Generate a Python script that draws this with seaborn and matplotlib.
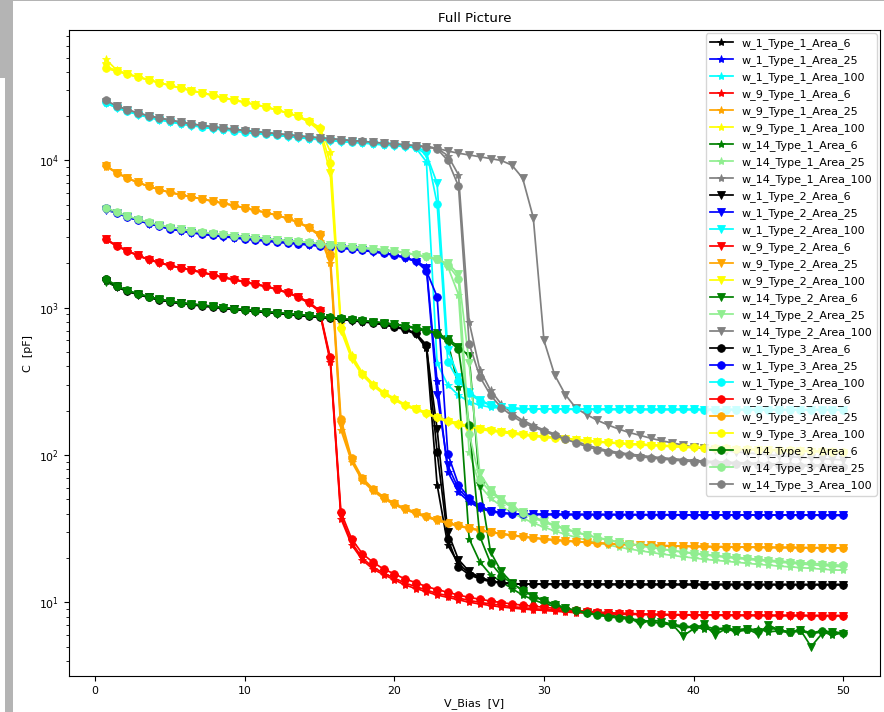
import numpy as np
import matplotlib
matplotlib.use("Agg")
import matplotlib.pyplot as plt
from matplotlib.patches import Rectangle
import seaborn as sns

# Bias sweep: 70 steps of 50/70 V up to 50 V
v_bias = np.round(np.arange(1, 71) * 50 / 70, 4)

wafers = ["1", "9", "14"]
types = ["1", "2", "3"]
areas = ["6", "25", "100"]

# ---------------- w_1 ----------------
c_w1_t1_a6 = [1530, 1390, 1296, 1232, 1178, 1133, 1098, 1071, 1050, 1031,
              1013, 993, 976, 960, 945, 930, 916, 902, 888, 875,
              862, 848, 834, 820, 805, 790, 768, 740, 710, 660,
              530, 63, 24.5, 18.2, 15.8, 14.6, 14.0, 13.6, 13.4, 13.3,
              13.28, 13.27, 13.26, 13.25, 13.25, 13.24, 13.24, 13.23, 13.23, 13.22,
              13.22, 13.22, 13.21, 13.21, 13.21, 13.2, 13.2, 13.2, 13.2, 13.2,
              13.19, 13.19, 13.19, 13.19, 13.18, 13.18, 13.18, 13.18, 13.18, 13.17]
c_w1_t2_a6 = [1510, 1385, 1293, 1230, 1176, 1131, 1096, 1069, 1048, 1029,
              1011, 991, 974, 958, 943, 928, 914, 900, 886, 873,
              860, 846, 832, 818, 803, 788, 770, 743, 715, 668,
              540, 150, 30, 19.5, 16.2, 14.8, 14.0, 13.6, 13.4, 13.3,
              13.28, 13.27, 13.26, 13.26, 13.25, 13.25, 13.24, 13.24, 13.23, 13.23,
              13.22, 13.22, 13.22, 13.21, 13.21, 13.21, 13.2, 13.2, 13.2, 13.2,
              13.2, 13.19, 13.19, 13.19, 13.19, 13.18, 13.18, 13.18, 13.18, 13.18]
c_w1_t3_a6 = [1560, 1400, 1300, 1235, 1180, 1135, 1100, 1073, 1052, 1033,
              1015, 995, 978, 962, 947, 932, 918, 904, 890, 877,
              864, 850, 836, 822, 807, 792, 772, 745, 718, 672,
              560, 105, 27, 17.4, 15.4, 14.4, 13.8, 13.5, 13.35, 13.3,
              13.3, 13.28, 13.27, 13.26, 13.25, 13.25, 13.24, 13.24, 13.23, 13.23,
              13.22, 13.22, 13.22, 13.21, 13.21, 13.21, 13.2, 13.2, 13.2, 13.2,
              13.2, 13.19, 13.19, 13.19, 13.19, 13.18, 13.18, 13.18, 13.18, 13.18]

c_w1_t1_a25 = [4680, 4400, 4140, 3930, 3730, 3580, 3440, 3340, 3240, 3170,
               3110, 3050, 2990, 2940, 2890, 2850, 2800, 2760, 2720, 2680,
               2630, 2590, 2550, 2510, 2460, 2410, 2350, 2280, 2190, 2070,
               1900, 316, 77, 56, 48, 43.5, 41.3, 40.3, 39.8, 39.6,
               39.55, 39.5, 39.5, 39.45, 39.45, 39.4, 39.4, 39.4, 39.35, 39.35,
               39.3, 39.3, 39.3, 39.25, 39.25, 39.2, 39.2, 39.2, 39.2, 39.15,
               39.15, 39.15, 39.1, 39.1, 39.1, 39.1, 39.05, 39.05, 39.0, 39.0]
c_w1_t2_a25 = [4620, 4390, 4130, 3920, 3720, 3570, 3430, 3330, 3230, 3160,
               3100, 3040, 2980, 2930, 2880, 2840, 2790, 2750, 2710, 2670,
               2620, 2580, 2540, 2500, 2450, 2400, 2340, 2270, 2180, 2060,
               1850, 257, 85, 59, 49.5, 44, 41.6, 40.4, 39.9, 39.6,
               39.55, 39.5, 39.5, 39.45, 39.45, 39.4, 39.4, 39.4, 39.35, 39.35,
               39.3, 39.3, 39.3, 39.25, 39.25, 39.2, 39.2, 39.2, 39.2, 39.15,
               39.15, 39.15, 39.1, 39.1, 39.1, 39.1, 39.05, 39.05, 39.0, 39.0]
c_w1_t3_a25 = [4750, 4420, 4150, 3940, 3740, 3590, 3450, 3350, 3250, 3180,
               3120, 3060, 3000, 2950, 2900, 2860, 2810, 2770, 2730, 2690,
               2640, 2600, 2560, 2520, 2470, 2420, 2360, 2290, 2200, 2080,
               1780, 1190, 102, 63, 51, 45, 42, 40.6, 40.0, 39.7,
               39.6, 39.55, 39.5, 39.5, 39.45, 39.45, 39.4, 39.4, 39.4, 39.35,
               39.35, 39.3, 39.3, 39.3, 39.25, 39.25, 39.2, 39.2, 39.2, 39.2,
               39.15, 39.15, 39.15, 39.1, 39.1, 39.1, 39.1, 39.05, 39.05, 39.0]

c_w1_t1_a100 = [24700, 22900, 21600, 20550, 19650, 18950, 18350, 17800, 17300, 16900,
                16500, 16200, 15900, 15600, 15350, 15100, 14850, 14600, 14350, 14100,
                13900, 13700, 13500, 13350, 13200, 13000, 12800, 12650, 12450, 12200,
                9800, 420, 300, 255, 230, 218, 211, 208, 206.5, 205.5,
                205.5, 205, 205, 204.8, 204.6, 204.5, 204.4, 204.3, 204.2, 204.1,
                204, 204, 203.9, 203.9, 203.8, 203.8, 203.7, 203.7, 203.6, 203.6,
                203.5, 203.5, 203.4, 203.4, 203.3, 203.3, 203.2, 203.2, 203.1, 203.1]
c_w1_t2_a100 = [24500, 22800, 21550, 20500, 19600, 18900, 18300, 17750, 17250, 16850,
                16450, 16150, 15850, 15550, 15300, 15050, 14800, 14550, 14300, 14050,
                13850, 13650, 13450, 13300, 13150, 12950, 12750, 12600, 12400, 12250,
                11000, 7000, 520, 340, 270, 236, 220, 212, 208, 206.5,
                205.5, 205, 205, 204.8, 204.6, 204.5, 204.4, 204.3, 204.2, 204.1,
                204, 204, 203.9, 203.9, 203.8, 203.8, 203.7, 203.7, 203.6, 203.6,
                203.5, 203.5, 203.4, 203.4, 203.3, 203.3, 203.2, 203.2, 203.1, 203.1]
c_w1_t3_a100 = [25000, 23000, 21650, 20600, 19700, 19000, 18400, 17850, 17350, 16950,
                16550, 16250, 15950, 15650, 15400, 15150, 14900, 14650, 14400, 14150,
                13950, 13750, 13550, 13400, 13250, 13050, 12850, 12700, 12500, 12300,
                11600, 5100, 430, 320, 262, 232, 218, 211, 208, 206.5,
                205.5, 205, 205, 204.8, 204.6, 204.5, 204.4, 204.3, 204.2, 204.1,
                204, 204, 203.9, 203.9, 203.8, 203.8, 203.7, 203.7, 203.6, 203.6,
                203.5, 203.5, 203.4, 203.4, 203.3, 203.3, 203.2, 203.2, 203.1, 203.1]

# ---------------- w_9 ----------------
c_w9_t1_a6 = [2900, 2630, 2430, 2260, 2120, 2020, 1930, 1860, 1800, 1730,
              1670, 1600, 1550, 1490, 1440, 1390, 1330, 1260, 1180, 1075,
              940, 430, 37, 24.6, 19.4, 16.8, 15.4, 14.2, 13.1, 12.4,
              11.8, 11.2, 10.8, 10.4, 10.0, 9.75, 9.5, 9.3, 9.15, 9.0,
              8.9, 8.8, 8.7, 8.6, 8.5, 8.45, 8.4, 8.35, 8.3, 8.28,
              8.26, 8.24, 8.22, 8.2, 8.19, 8.18, 8.17, 8.16, 8.15, 8.15,
              8.14, 8.14, 8.13, 8.13, 8.12, 8.12, 8.11, 8.11, 8.1, 8.1]
c_w9_t2_a6 = [2920, 2635, 2435, 2265, 2125, 2025, 1935, 1865, 1805, 1735,
              1675, 1605, 1555, 1495, 1445, 1395, 1335, 1265, 1185, 1080,
              950, 445, 38.5, 25.5, 20, 17.3, 15.8, 14.6, 13.5, 12.8,
              12.1, 11.5, 11.1, 10.7, 10.3, 10.0, 9.75, 9.55, 9.35, 9.2,
              9.05, 8.95, 8.85, 8.75, 8.65, 8.55, 8.5, 8.42, 8.37, 8.33,
              8.3, 8.27, 8.25, 8.23, 8.21, 8.2, 8.19, 8.18, 8.17, 8.16,
              8.15, 8.15, 8.14, 8.14, 8.13, 8.13, 8.12, 8.12, 8.11, 8.11]
c_w9_t3_a6 = [2940, 2640, 2440, 2270, 2130, 2030, 1940, 1870, 1810, 1740,
              1680, 1610, 1560, 1500, 1450, 1400, 1340, 1270, 1190, 1090,
              960, 460, 41, 27, 21.4, 18.7, 16.8, 15.6, 14.4, 13.6,
              12.8, 12.2, 11.7, 11.2, 10.8, 10.5, 10.2, 9.95, 9.75, 9.55,
              9.4, 9.25, 9.1, 8.95, 8.8, 8.7, 8.6, 8.5, 8.45, 8.4,
              8.35, 8.3, 8.28, 8.26, 8.24, 8.22, 8.2, 8.2, 8.18, 8.18,
              8.16, 8.16, 8.15, 8.15, 8.14, 8.14, 8.13, 8.13, 8.12, 8.12]

c_w9_t1_a25 = [9100, 8250, 7580, 7090, 6670, 6340, 6060, 5850, 5660, 5460,
               5290, 5110, 4940, 4750, 4580, 4420, 4240, 4030, 3790, 3480,
               3080, 2000, 148, 90, 67, 57, 50.5, 46, 42.5, 40,
               37.8, 35.9, 34.3, 32.9, 31.7, 30.7, 29.8, 29.1, 28.4, 27.8,
               27.3, 26.8, 26.4, 26.1, 25.8, 25.5, 25.2, 25.0, 24.8, 24.6,
               24.4, 24.3, 24.2, 24.1, 24.0, 23.9, 23.85, 23.8, 23.75, 23.7,
               23.65, 23.6, 23.55, 23.5, 23.5, 23.45, 23.4, 23.4, 23.35, 23.3]
c_w9_t2_a25 = [9200, 8270, 7590, 7100, 6680, 6350, 6070, 5860, 5670, 5470,
               5300, 5120, 4950, 4760, 4590, 4430, 4250, 4040, 3800, 3500,
               3110, 2100, 160, 92, 68.5, 58, 51.3, 46.5, 43, 40.5,
               38.2, 36.2, 34.5, 33.1, 31.8, 30.8, 30, 29.2, 28.5, 27.9,
               27.4, 26.9, 26.5, 26.1, 25.8, 25.5, 25.2, 25.0, 24.8, 24.6,
               24.45, 24.35, 24.25, 24.15, 24.05, 23.95, 23.9, 23.85, 23.8, 23.75,
               23.7, 23.65, 23.6, 23.55, 23.55, 23.5, 23.45, 23.45, 23.4, 23.35]
c_w9_t3_a25 = [9250, 8280, 7600, 7100, 6680, 6350, 6070, 5860, 5670, 5470,
               5300, 5120, 4950, 4760, 4590, 4430, 4250, 4050, 3820, 3520,
               3150, 2300, 176, 95, 70, 59, 52, 47, 43.5, 41,
               38.5, 36.5, 34.8, 33.3, 32, 31, 30.1, 29.3, 28.6, 28,
               27.5, 27, 26.6, 26.2, 25.9, 25.6, 25.3, 25.1, 24.9, 24.7,
               24.5, 24.4, 24.3, 24.2, 24.1, 24.0, 23.95, 23.9, 23.85, 23.8,
               23.75, 23.7, 23.65, 23.6, 23.6, 23.55, 23.5, 23.5, 23.45, 23.4]

c_w9_t1_a100 = [48600, 41200, 38600, 36900, 35300, 33800, 32400, 31100, 29900, 28800,
                27800, 26700, 25800, 24900, 24000, 23100, 22100, 21100, 20000, 18600,
                16800, 11500, 780, 480, 362, 305, 267, 243, 221, 208,
                194, 182, 172, 164, 158, 153, 149, 145.5, 142.5, 139.5,
                136.5, 134, 132, 130, 128, 126, 124, 122.5, 121, 119.5,
                118.5, 117.5, 116.5, 115.5, 114.5, 113.5, 112.5, 112, 111.5, 110.5,
                110, 109.5, 109, 108.5, 108, 107.5, 107, 106.5, 106, 105.5]
c_w9_t2_a100 = [43500, 40800, 38700, 37000, 35300, 33700, 32300, 31000, 29800, 28700,
                27700, 26600, 25700, 24800, 23900, 23000, 22000, 21000, 19900, 18200,
                15900, 8200, 700, 450, 348, 295, 259, 237, 215, 204,
                190, 178, 168, 160, 154, 149.5, 145.5, 142.5, 139.5, 136.5,
                134, 132, 130, 128, 126, 124, 122.5, 121, 119.5, 118,
                117, 116, 115, 114, 113, 112, 111, 110.5, 110, 109,
                108.5, 108, 107.5, 107, 106.5, 106, 105.5, 105, 104.5, 104]
c_w9_t3_a100 = [42300, 40300, 38500, 36800, 35200, 33700, 32300, 31000, 29800, 28700,
                27700, 26600, 25700, 24800, 23900, 23000, 22000, 21000, 19900, 18400,
                16500, 9600, 730, 465, 355, 300, 263, 240, 218, 206,
                192, 180, 170, 162, 156, 151, 147, 144, 141, 138,
                135, 133, 131, 129, 127, 125, 123, 122, 120, 119,
                118, 117, 116, 115, 114, 113, 112, 111.5, 111, 110,
                109.5, 109, 108.5, 108, 107.5, 107, 106.5, 106, 105.5, 105]

# ---------------- w_14 ----------------
c_w14_t1_a6 = [1540, 1400, 1305, 1242, 1188, 1143, 1108, 1081, 1060, 1041,
               1023, 1003, 986, 970, 955, 940, 926, 912, 898, 885,
               872, 859, 846, 832, 818, 803, 788, 768, 748, 722,
               692, 655, 590, 290, 27, 18.8, 15.4, 13.8, 12.4, 11.2,
               10.4, 9.8, 9.4, 9.0, 8.7, 8.4, 8.2, 8.0, 7.9, 7.7,
               7.6, 7.4, 7.2, 7.0, 6.7, 6.8, 6.6, 6.5, 6.6, 6.3,
               6.5, 6.6, 6.3, 6.4, 6.2, 6.4, 6.1, 6.3, 6.0, 6.2]
c_w14_t2_a6 = [1500, 1395, 1302, 1240, 1186, 1141, 1106, 1079, 1058, 1039,
               1021, 1001, 984, 968, 953, 938, 924, 910, 896, 883,
               870, 857, 844, 830, 816, 801, 786, 775, 756, 733,
               708, 675, 615, 545, 470, 62, 22, 16.2, 13.6, 12.0,
               11.0, 10.2, 9.6, 9.1, 8.7, 8.5, 8.3, 8.2, 8.0, 7.9,
               7.1, 7.6, 7.4, 7.1, 5.9, 6.6, 7.1, 6.0, 6.6, 6.5,
               6.6, 6.1, 7.0, 6.5, 6.3, 6.5, 5.0, 6.1, 6.3, 6.1]
c_w14_t3_a6 = [1575, 1410, 1310, 1245, 1190, 1145, 1110, 1083, 1062, 1043,
               1025, 1005, 988, 972, 957, 942, 928, 914, 900, 887,
               874, 861, 848, 834, 820, 805, 790, 772, 752, 728,
               700, 665, 600, 525, 160, 28, 18.5, 15.2, 13.4, 12.1,
               11.1, 10.3, 9.7, 9.2, 8.8, 8.5, 8.2, 8.0, 7.8, 7.7,
               7.5, 7.4, 7.2, 7.1, 6.9, 6.8, 6.9, 6.6, 6.7, 6.5,
               6.6, 6.4, 6.7, 6.5, 6.3, 6.5, 6.2, 6.4, 6.3, 6.2]

c_w14_t1_a25 = [4700, 4430, 4180, 3980, 3790, 3640, 3510, 3410, 3320, 3250,
                3190, 3140, 3080, 3030, 2980, 2940, 2890, 2850, 2810, 2770,
                2710, 2670, 2630, 2590, 2550, 2510, 2470, 2420, 2360, 2290,
                2210, 2120, 1900, 1230, 105, 62, 51, 45, 40.5, 37.3,
                34.6, 32.4, 30.5, 29, 27.6, 26.4, 25.4, 24.5, 23.7, 23.0,
                22.4, 21.8, 21.3, 20.8, 20.4, 20.0, 19.6, 19.3, 19.0, 18.7,
                18.4, 18.1, 17.9, 17.6, 17.4, 17.2, 17.0, 16.8, 16.6, 16.5]
c_w14_t2_a25 = [4650, 4420, 4170, 3970, 3780, 3630, 3500, 3400, 3310, 3240,
                3180, 3130, 3070, 3020, 2970, 2930, 2880, 2840, 2800, 2760,
                2700, 2660, 2620, 2580, 2540, 2500, 2460, 2410, 2350, 2280,
                2200, 2130, 2000, 1700, 420, 75, 58, 50, 45, 41.2,
                38.2, 35.6, 33.5, 31.7, 30.1, 28.7, 27.6, 26.6, 25.7, 25.0,
                24.3, 23.6, 23.0, 22.4, 21.9, 21.4, 21.0, 20.6, 20.2, 19.9,
                19.6, 19.3, 19.0, 18.7, 18.5, 18.2, 18.0, 17.8, 17.6, 17.4]
c_w14_t3_a25 = [4790, 4460, 4200, 3990, 3800, 3650, 3520, 3420, 3330, 3260,
                3200, 3150, 3090, 3040, 2990, 2950, 2900, 2860, 2820, 2780,
                2720, 2680, 2640, 2600, 2560, 2520, 2480, 2430, 2370, 2300,
                2230, 2150, 1960, 1575, 140, 68, 56, 49, 44, 40.5,
                37.5, 35, 33, 31.3, 29.8, 28.5, 27.4, 26.4, 25.6, 24.9,
                24.2, 23.6, 23.0, 22.5, 22.0, 21.6, 21.2, 20.8, 20.5, 20.2,
                19.9, 19.6, 19.3, 19.1, 18.8, 18.6, 18.4, 18.2, 18.0, 17.8]

c_w14_t1_a100 = [25000, 23400, 22050, 20980, 20080, 19380, 18780, 18180, 17680, 17280,
                 16880, 16580, 16280, 15980, 15680, 15430, 15180, 14930, 14680, 14430,
                 14230, 14030, 13830, 13630, 13480, 13280, 13100, 12930, 12750, 12580,
                 12380, 12100, 10800, 8000, 800, 380, 275, 222, 192, 172,
                 159, 148, 139, 131, 124, 117, 111.5, 107, 104, 101.5,
                 99.5, 97.5, 96, 94.5, 93.2, 92, 91, 90.2, 89.5, 88.9,
                 88.3, 87.8, 87.3, 86.9, 86.5, 86.1, 85.8, 85.5, 85.2, 84.9]
c_w14_t2_a100 = [24800, 23300, 22000, 20950, 20050, 19350, 18750, 18150, 17650, 17250,
                 16850, 16550, 16250, 15950, 15650, 15400, 15150, 14900, 14650, 14400,
                 14200, 14000, 13800, 13600, 13450, 13250, 13080, 12910, 12730, 12560,
                 12400, 12100, 11600, 11200, 10900, 10600, 10300, 10000, 9300, 7600,
                 4100, 600, 350, 257, 208, 188, 172, 160, 150, 142,
                 136, 130, 125, 121, 117, 113, 111, 109, 107, 105,
                 103.5, 102, 100.5, 99, 97.5, 96.5, 95.5, 94.5, 93.5, 92.5]
c_w14_t3_a100 = [25600, 23500, 22100, 21000, 20100, 19400, 18800, 18200, 17700, 17300,
                 16900, 16600, 16300, 16000, 15700, 15450, 15200, 14950, 14700, 14450,
                 14250, 14050, 13850, 13650, 13500, 13300, 13120, 12950, 12770, 12600,
                 12400, 12000, 10000, 6700, 570, 340, 255, 210, 185, 166,
                 155, 145, 136, 128, 121, 114, 109, 105, 102, 99.5,
                 97.5, 95.5, 94, 92.5, 91.3, 90.2, 89.3, 88.5, 87.8, 87.2,
                 86.6, 86.1, 85.6, 85.2, 84.8, 84.4, 84.1, 83.8, 83.5, 83.2]

capacitance = {
    ("1", "1", "6"): c_w1_t1_a6, ("1", "2", "6"): c_w1_t2_a6, ("1", "3", "6"): c_w1_t3_a6,
    ("1", "1", "25"): c_w1_t1_a25, ("1", "2", "25"): c_w1_t2_a25, ("1", "3", "25"): c_w1_t3_a25,
    ("1", "1", "100"): c_w1_t1_a100, ("1", "2", "100"): c_w1_t2_a100, ("1", "3", "100"): c_w1_t3_a100,
    ("9", "1", "6"): c_w9_t1_a6, ("9", "2", "6"): c_w9_t2_a6, ("9", "3", "6"): c_w9_t3_a6,
    ("9", "1", "25"): c_w9_t1_a25, ("9", "2", "25"): c_w9_t2_a25, ("9", "3", "25"): c_w9_t3_a25,
    ("9", "1", "100"): c_w9_t1_a100, ("9", "2", "100"): c_w9_t2_a100, ("9", "3", "100"): c_w9_t3_a100,
    ("14", "1", "6"): c_w14_t1_a6, ("14", "2", "6"): c_w14_t2_a6, ("14", "3", "6"): c_w14_t3_a6,
    ("14", "1", "25"): c_w14_t1_a25, ("14", "2", "25"): c_w14_t2_a25, ("14", "3", "25"): c_w14_t3_a25,
    ("14", "1", "100"): c_w14_t1_a100, ("14", "2", "100"): c_w14_t2_a100, ("14", "3", "100"): c_w14_t3_a100,
}

colors = {
    ("1", "6"): "black", ("1", "25"): "blue", ("1", "100"): "cyan",
    ("9", "6"): "red", ("9", "25"): "orange", ("9", "100"): "yellow",
    ("14", "6"): "green", ("14", "25"): "lightgreen", ("14", "100"): "gray",
}
markers = {"1": "*", "2": "v", "3": "o"}
marker_sizes = {"1": 6.0, "2": 5.5, "3": 5.5}

for key, vals in capacitance.items():
    if len(vals) != len(v_bias):
        raise ValueError(f"{key}: {len(vals)} values")

plt.rcParams["font.size"] = 8

W, H = 884, 712
fig = plt.figure(figsize=(W / 100, H / 100), dpi=100)
ax = fig.add_axes([69 / W, 1 - 676 / H, (880 - 69) / W, (676 - 30) / H])
ax.set_yscale("log")

for t in types:
    for w in wafers:
        for a in areas:
            col = colors[(w, a)]
            sns.lineplot(
                x=v_bias, y=capacitance[(w, t, a)], ax=ax,
                color=col, marker=markers[t], markersize=marker_sizes[t],
                markeredgecolor=col, markeredgewidth=0.6, linewidth=1.25,
                estimator=None, sort=False,
                label=f"w_{w}_Type_{t}_Area_{a}",
            )

ax.set_title("Full Picture")
ax.set_xlabel("V_Bias  [V]", labelpad=1.5)
ax.set_ylabel("C  [pF]")
ax.tick_params(labelsize=7.8)
ax.legend(loc="upper right", fontsize=8, borderaxespad=0.3, labelspacing=0.55)

# window frame strips along the left and top edges
frame = "#b4b4b4"
fig.add_artist(Rectangle((0, 1 - 78 / H), 13 / W, 78 / H, transform=fig.transFigure,
                         facecolor=frame, edgecolor="none"))
fig.add_artist(Rectangle((5 / W, 0), 8 / W, 1, transform=fig.transFigure,
                         facecolor=frame, edgecolor="none"))
fig.add_artist(Rectangle((0, 1 - 1 / H), 1, 1 / H, transform=fig.transFigure,
                         facecolor=frame, edgecolor="none"))

fig.savefig("out.png", dpi=100)
